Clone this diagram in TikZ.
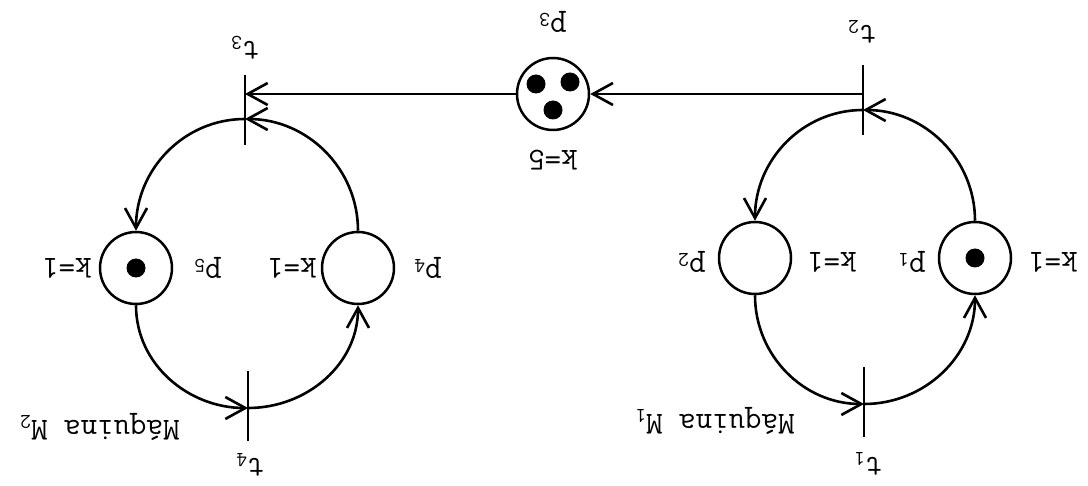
\documentclass[tikz,border=0pt]{standalone}
\usetikzlibrary{arrows.meta}
\newcommand\idx[1]{\raisebox{-0.35ex}{\fontsize{21}{23}\selectfont #1}}
\begin{document}
\begin{tikzpicture}[x=1pt,y=1pt,
  place/.style={circle,draw,line width=2.5pt,minimum size=72pt,inner sep=0pt},
  trans/.style={rectangle,fill=black,draw=none,minimum width=2.8pt,minimum height=70pt,inner sep=0pt},
  token/.style={circle,fill=black,draw=none,minimum size=19pt,inner sep=0pt},
  lbl/.style={rotate=180,font=\ttfamily\fontsize{32}{36}\selectfont,inner sep=0pt},
  arc/.style={line width=2.6pt,-{Straight Barb[length=20pt,width=22pt,line width=2.6pt]}}]
\useasboundingbox (0,0) rectangle (1088,-486);
% places
\node[place] (p1) at (975,-258) {};
\node[place] (p2) at (755,-258) {};
\node[place] (p3) at (553,-94) {};
\node[place] (p4) at (358,-268) {};
\node[place] (p5) at (136,-268) {};
% tokens
\node[token] (d1) at (p1) {};
\node[token] (d3a) at (536,-84) {};
\node[token] (d3b) at (570,-82) {};
\node[token] (d3c) at (553,-110) {};
\node[token] (d5) at (p5) {};
% transitions
\node[trans] (t1) at (864,-402) {};
\node[trans] (t2) at (863,-100) {};
\node[trans] (t3) at (245,-110) {};
\node[trans] (t4) at (248,-406) {};
% connectors
\draw[arc] ([yshift=6pt]t2.center) -- (p3.east);
\draw[arc] (p3.west) -- ([yshift=16pt]t3.center);
\draw[arc] ([yshift=-10pt]t2.center) to[out=180,in=90] (p2.north);
\draw[arc] (p1.north) to[out=90,in=0] ([yshift=-10pt]t2.center);
\draw[arc] (p2.south) to[out=-90,in=180] ([yshift=-2pt]t1.center);
\draw[arc] ([yshift=-2pt]t1.center) to[out=0,in=-90] (p1.south);
\draw[arc] ([yshift=-9pt]t3.center) to[out=180,in=90] (p5.north);
\draw[arc] (p4.north) to[out=90,in=0] ([yshift=-9pt]t3.center);
\draw[arc] (p5.south) to[out=-90,in=180] ([yshift=-2pt]t4.center);
\draw[arc] ([yshift=-2pt]t4.center) to[out=0,in=-90] (p4.south);
% labels
\node[lbl] (lt1) at (868,-464) {t\idx{1}};
\node[lbl] (lt2) at (862,-32) {t\idx{2}};
\node[lbl] (lt3) at (245,-48) {t\idx{3}};
\node[lbl] (lt4) at (250,-465) {t\idx{4}};
\node[lbl] (lp1) at (912,-262) {p\idx{1}};
\node[lbl] (lk1) at (1053,-262) {k=1};
\node[lbl] (lp2) at (692,-262) {p\idx{2}};
\node[lbl] (lk2) at (832,-262) {k=1};
\node[lbl] (lp3) at (553,-22) {p\idx{3}};
\node[lbl] (lk3) at (553,-160) {k=5};
\node[lbl] (lp4) at (428,-268) {p\idx{4}};
\node[lbl] (lk4) at (292,-268) {k=1};
\node[lbl] (lp5) at (208,-268) {p\idx{5}};
\node[lbl] (lk5) at (67,-268) {k=1};
\node[lbl] (m1) at (715,-421) {Máquina M\idx{1}};
\node[lbl] (m2) at (100,-427) {Máquina M\idx{2}};
\end{tikzpicture}
\end{document}
